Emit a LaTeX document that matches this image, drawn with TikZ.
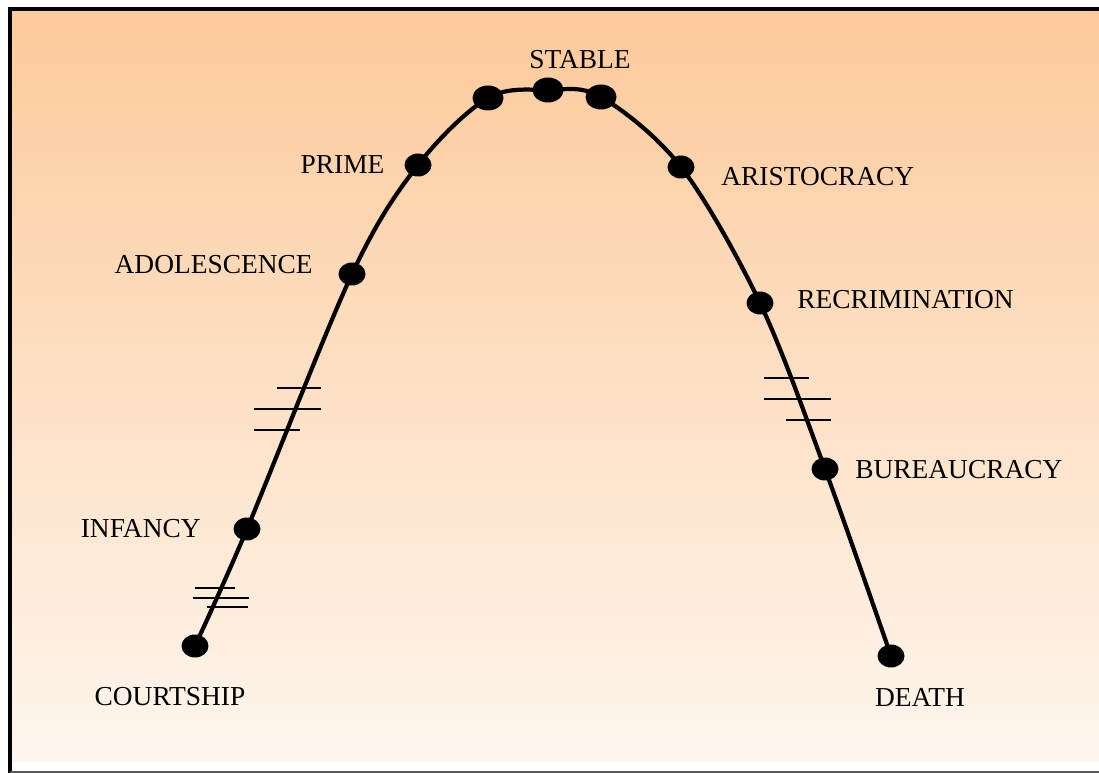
\documentclass[tikz,border=0pt]{standalone}
\usepackage{fontspec}
\setmainfont{Liberation Serif}
\usetikzlibrary{shapes.geometric, positioning}

\begin{document}
\begin{tikzpicture}[x=0.02cm, y=-0.02cm,
    stage/.style={fill=black, ellipse, minimum width=0.54cm, minimum height=0.46cm, inner sep=0pt},
    topstage/.style={stage, minimum width=0.62cm, minimum height=0.5cm},
    tag/.style={font=\fontsize{15.6}{18}\selectfont, text=black, inner sep=0pt},
    tick/.style={line width=1.7pt}]
    \useasboundingbox (0,0) rectangle (1099,773);
    \fill[white] (0,0) rectangle (1099,773);

    % Sfondo
    \shade[top color={rgb,255:red,253;green,202;blue,155}, bottom color={rgb,255:red,254;green,246;blue,238}] (12,11) rectangle (1099,761);
    \draw[line width=2.3pt] (10,773) -- (10,9) -- (1099,9);
    \draw[gray!70!black, line width=1.2pt] (10,772) -- (1099,772);

    % Fasi
    \node[stage] (courtship) at (195,646) {};
    \node[stage] (infancy) at (247,529) {};
    \node[stage] (adolescence) at (352,274) {};
    \node[stage] (prime) at (418,165) {};
    \node[topstage] (goleft) at (488,98) {};
    \node[topstage] (stable) at (548,90) {};
    \node[topstage] (goright) at (601,97) {};
    \node[stage] (aristocracy) at (681,167) {};
    \node[stage] (recrimination) at (760,303) {};
    \node[stage] (bureaucracy) at (825,469) {};
    \node[stage] (death) at (891,656) {};

    % Curva
    \draw[line width=2.4pt] plot[smooth, tension=0.55] coordinates {(courtship.center) (infancy.center) (adolescence.center) (prime.center) (goleft.center) (stable.center) (goright.center) (aristocracy.center) (recrimination.center) (bureaucracy.center) (death.center)};

    % Interruzioni
    \draw[tick] (277,388) -- (321,388);
    \draw[tick] (254,409) -- (321,409);
    \draw[tick] (254,430) -- (300,430);
    \draw[tick] (195,588) -- (235,588);
    \draw[tick] (193,598) -- (249,598);
    \draw[tick] (207,607) -- (248,607);
    \draw[tick] (764,378) -- (809,378);
    \draw[tick] (764,399) -- (831,399);
    \draw[tick] (786,420) -- (831,420);

    % Etichette
    \node[tag] (lstable) at (580,60) {STABLE};
    \node[tag, left=11pt of prime] (lprime) {PRIME};
    \node[tag, anchor=west] (laristocracy) at (721,177) {ARISTOCRACY};
    \node[tag, anchor=east] (ladolescence) at (313,265) {ADOLESCENCE};
    \node[tag, anchor=west] (lrecrimination) at (797,300) {RECRIMINATION};
    \node[tag, anchor=west] (lbureaucracy) at (855,470) {BUREAUCRACY};
    \node[tag, anchor=east] (linfancy) at (201,529) {INFANCY};
    \node[tag] (lcourtship) at (170,697) {COURTSHIP};
    \node[tag] (ldeath) at (920,697) {DEATH};
\end{tikzpicture}
\end{document}
